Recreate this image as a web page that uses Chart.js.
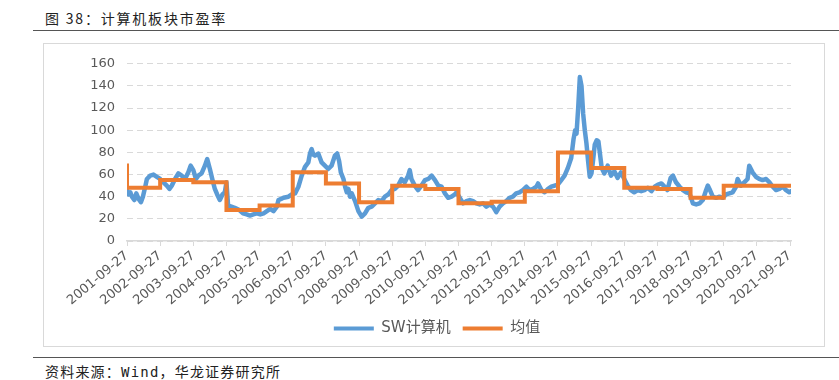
<!DOCTYPE html>
<html>
<head>
<meta charset="utf-8">
<script src="https://cdn.jsdelivr.net/npm/chart.js@4.4.0/dist/chart.umd.min.js"></script>
<style>
  body { margin:0; width:839px; height:380px; background:#fff; position:relative; overflow:hidden;
         font-family:"Noto Sans CJK SC", sans-serif; }
  #title { position:absolute; left:45px; top:8px; font-size:14px; letter-spacing:1.8px; color:#222; white-space:nowrap; }
  .rule { position:absolute; left:33px; width:806px; height:0; border-top:1.5px solid #555; }
  #box { position:absolute; left:43px; top:43px; width:780px; height:302px; border:1px solid #d9d9d9; }
  #source { position:absolute; left:45px; top:361px; font-size:14px; letter-spacing:1.2px; color:#222; white-space:nowrap;
            font-family:"DejaVu Sans Mono", "Noto Sans CJK SC", monospace; }
</style>
</head>
<body>
<div id="title">图 38：计算机板块市盈率</div>
<div class="rule" style="top:30px"></div>
<div id="box"><canvas id="c" width="780" height="302"></canvas></div>
<div class="rule" style="top:357px"></div>
<div id="source">资料来源：Wind，华龙证券研究所</div>
<script>
// x = years since 2001-09-27
const peT = [0.00,0.05,0.10,0.15,0.22,0.28,0.35,0.42,0.48,0.55,0.60,0.70,0.80,0.90,1.00,1.10,1.20,1.28,1.35,1.45,
  1.55,1.65,1.75,1.85,1.92,2.00,2.08,2.15,2.25,2.35,2.42,2.50,2.58,2.65,2.72,2.80,2.88,2.95,3.00,3.05,
  3.15,3.25,3.39,3.50,3.61,3.71,3.81,3.92,4.02,4.12,4.22,4.32,4.42,4.52,4.57,4.65,4.72,4.87,4.97,5.07,
  5.17,5.27,5.37,5.47,5.52,5.57,5.62,5.67,5.77,5.87,5.97,6.07,6.17,6.27,6.34,6.40,6.45,6.53,6.58,6.63,
  6.68,6.73,6.78,6.88,6.98,7.08,7.18,7.28,7.38,7.48,7.58,7.68,7.78,7.88,7.98,8.08,8.18,8.28,8.38,8.48,
  8.53,8.58,8.68,8.78,8.88,8.99,9.09,9.19,9.29,9.39,9.49,9.59,9.69,9.79,9.89,9.94,10.04,10.14,10.24,10.34,
  10.44,10.54,10.64,10.74,10.84,10.94,11.04,11.14,11.24,11.34,11.44,11.54,11.64,11.74,11.84,11.94,12.05,12.15,12.25,12.35,
  12.40,12.50,12.60,12.70,12.80,12.90,13.00,13.10,13.20,13.30,13.40,13.47,13.52,13.56,13.61,13.66,13.71,13.76,13.81,13.86,
  13.91,13.96,14.01,14.06,14.11,14.17,14.22,14.27,14.32,14.40,14.50,14.60,14.70,14.80,14.90,15.00,15.10,15.20,15.30,15.41,
  15.51,15.61,15.71,15.82,15.92,16.02,16.12,16.22,16.30,16.40,16.47,16.56,16.67,16.77,16.87,16.97,17.07,17.17,17.27,17.37,
  17.47,17.52,17.57,17.67,17.77,17.87,17.97,18.07,18.17,18.27,18.37,18.42,18.52,18.62,18.72,18.77,18.87,18.97,19.07,19.17,
  19.28,19.38,19.48,19.58,19.68,19.78,19.88,19.98,20.03];
const peVal = [46,42,44,40,37,43,38,35,40,49,56,59,60,58,56,53,50,47,50,56,
  61,59,56,62,68,64,56,59,61,68,74,65,55,47,42,37,42,44,53,32,
  31,30,28,25,24,23,24,25,24,25,27,29,27,31,37,38,39,40,42,43,
  49,59,67,71,79,83,78,77,79,71,68,65,68,77,79,72,62,56,49,44,
  47,40,43,36,27,22,25,30,31,34,37,36,40,42,46,47,50,56,53,59,
  64,56,50,46,50,55,56,59,55,50,49,43,39,40,42,44,39,34,36,37,
  36,34,33,34,31,33,31,26,31,34,36,39,40,43,44,46,49,46,47,49,
  52,46,44,47,49,50,51,55,59,66,75,92,100,97,120,148,140,115,100,88,
  72,58,61,73,87,91,90,78,66,61,68,59,63,57,62,56,50,46,44,46,
  45,46,48,45,49,51,52,49,46,57,59,53,49,46,44,43,34,33,34,37,
  46,50,47,40,39,40,39,42,43,44,49,56,50,53,56,68,62,58,56,55,
  56,53,49,46,47,49,46,44,45];

// yearly average (step starts)
const avgStart = [0, 0, 1, 2, 3, 4, 5, 6, 7, 8, 9, 10, 11, 12, 13, 14, 15, 16, 17, 18, 19, 20.03];
const avgVal   = [70, 48, 55, 53, 28, 32, 62, 52, 35, 50, 47, 34, 35.5, 45, 80, 66, 48, 47, 39, 50, 50, 50];

const xLabels = ['2001-09-27','2002-09-27','2003-09-27','2004-09-27','2005-09-27','2006-09-27','2007-09-27',
  '2008-09-27','2009-09-27','2010-09-27','2011-09-27','2012-09-27','2013-09-27','2014-09-27','2015-09-27',
  '2016-09-27','2017-09-27','2018-09-27','2019-09-27','2020-09-27','2021-09-27'];
const yTicks = [0, 20, 40, 60, 80, 100, 120, 140, 160];

const GREY = '#595959';

new Chart(document.getElementById('c'), {
  type: 'line',
  data: {
    datasets: [
      { label: 'SW计算机', data: peT.map((t, i) => ({ x: t, y: peVal[i] })),
        borderColor: '#5B9BD5', backgroundColor: '#5B9BD5', borderWidth: 4.5, pointRadius: 0,
        borderJoinStyle: 'round', borderCapStyle: 'round', order: 1 },
      { label: '均值', data: avgStart.map((t, i) => ({ x: t, y: avgVal[i] })),
        borderColor: '#ED7D31', backgroundColor: '#ED7D31', borderWidth: 4, pointRadius: 0,
        stepped: true, order: 0 }
    ]
  },
  options: {
    responsive: false, animation: false,
    layout: { padding: { left: 6, right: 0, top: 14, bottom: 0 } },
    plugins: {
      tooltip: { enabled: false },
      legend: {
        position: 'bottom',
        labels: { boxWidth: 40, boxHeight: 4, padding: 12, color: GREY,
                  font: { size: 15, family: '"DejaVu Sans", "Noto Sans CJK SC"' },
                  sort: (a, b) => a.datasetIndex - b.datasetIndex,
                  generateLabels: chart => Chart.defaults.plugins.legend.labels.generateLabels(chart)
                    .map(l => Object.assign(l, { lineWidth: 0 })) }
      }
    },
    scales: {
      x: {
        type: 'linear', min: 0, max: 20.03,
        ticks: { stepSize: 1, includeBounds: false, autoSkip: false, minRotation: 40, maxRotation: 40,
                 color: GREY, font: { size: 13, family: 'DejaVu Sans' }, padding: 2,
                 callback: v => xLabels[v] },
        grid: { drawOnChartArea: false, color: '#d9d9d9', tickLength: 5 },
        border: { color: '#d9d9d9', width: 1.5 },
        afterFit: s => { s.height = 68; }
      },
      y: {
        min: 0, max: 160,
        afterBuildTicks: s => { s.ticks = yTicks.map(v => ({ value: v })); },
        ticks: { color: GREY, font: { size: 13, family: 'DejaVu Sans' }, padding: 12 },
        grid: { color: '#d9d9d9', drawTicks: false },
        border: { display: false, dash: [6, 4] },
        afterFit: s => { s.width = 77; }
      },
      // empty right gutter so the legend stays centred on the frame
      gutter: {
        position: 'right', display: true,
        grid: { display: false }, ticks: { display: false }, border: { display: false },
        afterFit: s => { s.width = 33; }
      }
    }
  }
});
</script>
</body>
</html>
